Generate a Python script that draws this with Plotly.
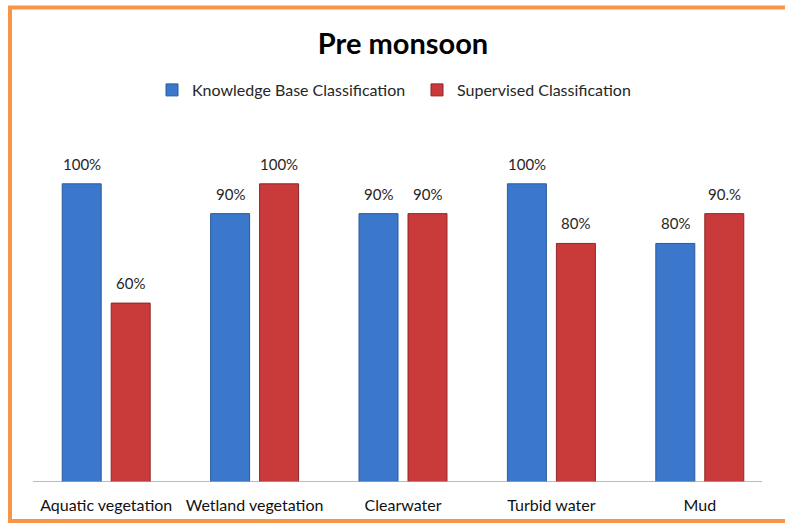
import plotly.graph_objects as go

categories = ["Aquatic vegetation", "Wetland vegetation", "Clearwater", "Turbid water", "Mud"]
knowledge_base = [100, 90, 90, 100, 80]
supervised = [60, 100, 90, 80, 90]
knowledge_labels = ["100%", "90%", "90%", "100%", "80%"]
supervised_labels = ["60%", "100%", "90%", "80%", "90.%"]

FONT = "Lato, Open Sans, sans-serif"
W, H = 785, 527
ML, MR, MT, MB = 32, 11, 154, 45
PW, PH = W - ML - MR, H - MT - MB

fig = go.Figure()
fig.add_trace(go.Bar(
    name="Knowledge Base Classification", x=categories, y=knowledge_base,
    marker=dict(color="#3b78cc", line=dict(color="#2a5a9e", width=1)),
))
fig.add_trace(go.Bar(
    name="Supervised Classification", x=categories, y=supervised,
    marker=dict(color="#c93a3b", line=dict(color="#8f2526", width=1)),
))

annotations = []
for cat, v, t in zip(categories, knowledge_base, knowledge_labels):
    annotations.append(dict(x=cat, y=v, text=t, xref="x", yref="y", showarrow=False,
                            xshift=-24.5, yshift=9, yanchor="bottom",
                            font=dict(family=FONT, size=15, color="#262626")))
for cat, v, t in zip(categories, supervised, supervised_labels):
    annotations.append(dict(x=cat, y=v, text=t, xref="x", yref="y", showarrow=False,
                            xshift=24.5, yshift=9, yanchor="bottom",
                            font=dict(family=FONT, size=15, color="#262626")))

def px_x(p):
    return (p - ML) / PW

def px_y(p):
    return (H - MB - p) / PH

orange = "#f79646"
frame_path = "M {:.5f},{:.5f} L {:.5f},{:.5f} L {:.5f},{:.5f} L {:.5f},{:.5f}".format(
    px_x(800), px_y(7.5), px_x(10), px_y(7.5), px_x(10), px_y(521), px_x(800), px_y(521))
shapes = [
    dict(type="path", xref="paper", yref="paper", path=frame_path,
         line=dict(color=orange, width=4), fillcolor="rgba(0,0,0,0)"),
    dict(type="line", xref="paper", yref="y", x0=px_x(33), x1=px_x(762), y0=0, y1=0,
         line=dict(color="#a6a6a6", width=1.5)),
]

fig.update_layout(
    width=W, height=H,
    margin=dict(l=ML, r=MR, t=MT, b=MB),
    paper_bgcolor="white", plot_bgcolor="white",
    barmode="group", bargap=0.34, bargroupgap=0.204,
    title=dict(text="<b>Pre monsoon</b>", xref="paper", x=0.5, xanchor="center", y=1 - 44 / H, yanchor="middle",
               font=dict(family=FONT, size=29, color="black")),
    legend=dict(orientation="h", x=px_x(152), xanchor="left", y=px_y(90), yanchor="middle",
                font=dict(family=FONT, size=16, color="#262626"), itemwidth=30,
                entrywidth=220, traceorder="normal"),
    xaxis=dict(showline=False, ticks="", showgrid=False, ticklabelstandoff=12,
               tickfont=dict(family=FONT, size=16, color="#111111")),
    yaxis=dict(range=[0, 1.1 * 100], visible=False, showgrid=False),
    annotations=annotations,
    shapes=shapes,
)

fig.write_html("out.html", config={"displayModeBar": False},
               post_script="document.body.style.margin='0';window.dispatchEvent(new Event('resize'));")
